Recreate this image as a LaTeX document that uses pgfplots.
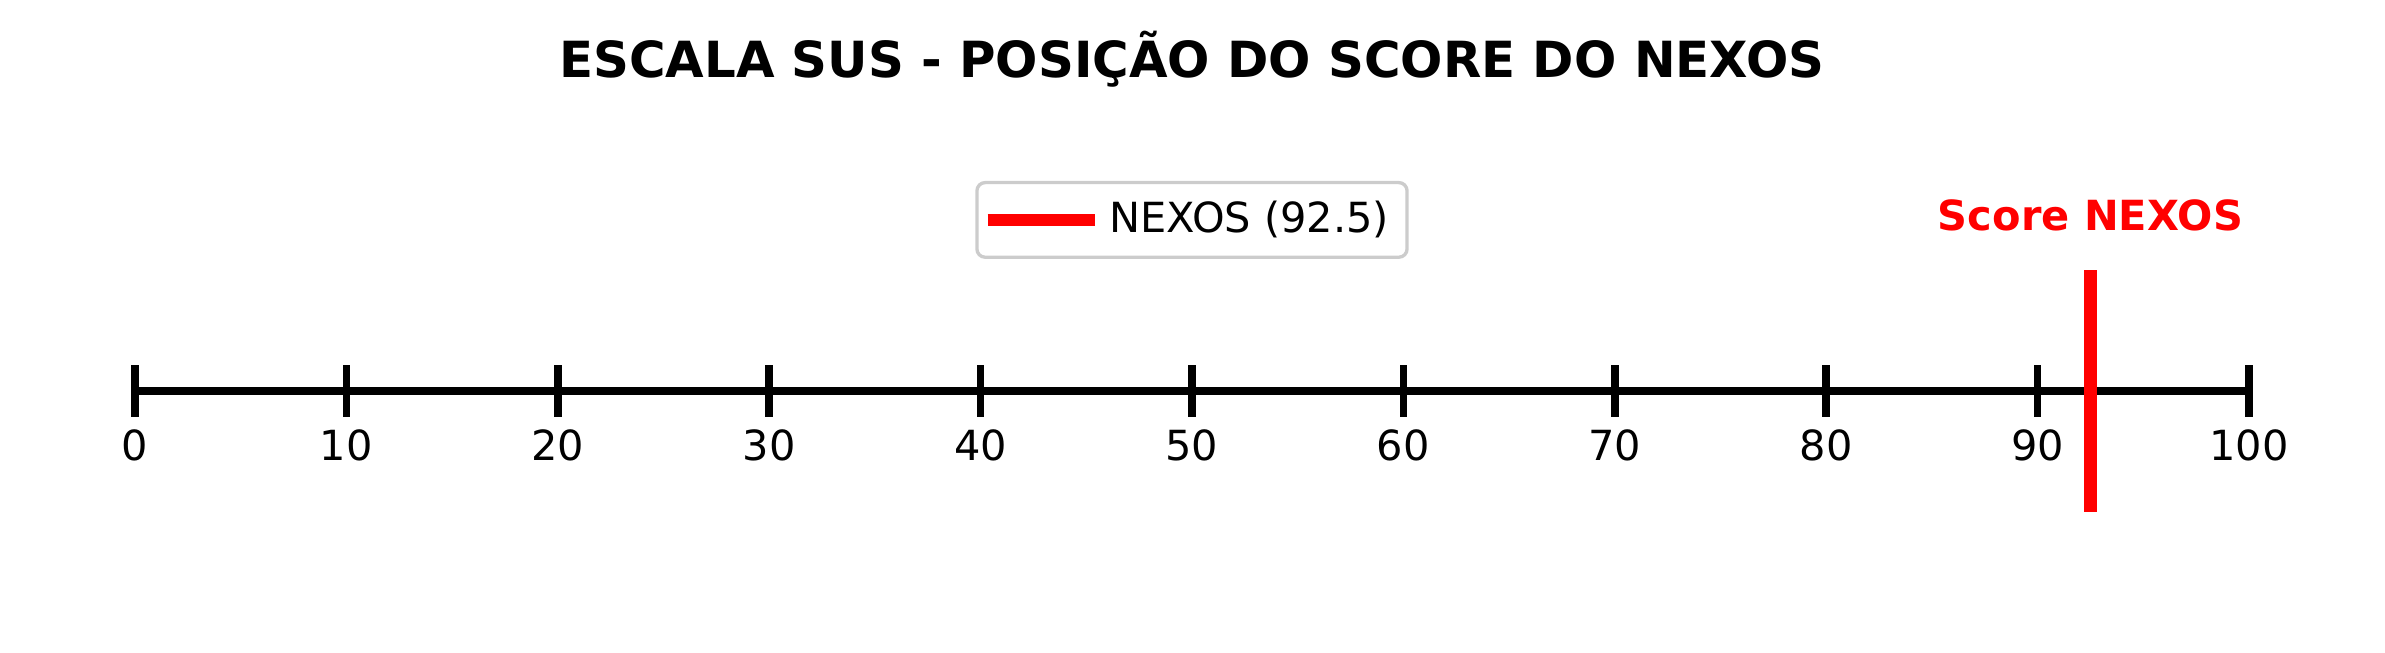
\documentclass[border=0pt]{standalone}
\usepackage{fontspec}
\setmainfont{DejaVu Sans}
\usepackage{pgfplots}
\pgfplotsset{compat=1.18}
\begin{document}
\begin{tikzpicture}
\useasboundingbox (0,0) rectangle (574.55pt,157.07pt);
\begin{axis}[
  at={(32.52pt,4.58pt)}, anchor=south west,
  scale only axis, width=509.26pt, height=116.60pt,
  xmin=0, xmax=100, ymin=-1, ymax=1,
  axis x line=middle, axis y line=none,
  axis line style={-, line width=1.93pt, black, line cap=rect},
  xtick={0,10,...,100},
  tick align=center, major tick length=12.3pt,
  every tick/.style={black, line width=1.8pt},
  xticklabel style={font=\fontsize{10}{12}\selectfont, anchor=north, yshift=0.4pt},
  /pgf/number format/assume math mode=true,
  clip=false,
  title={ESCALA SUS - POSIÇÃO DO SCORE DO NEXOS},
  title style={at={(0.5,1)}, anchor=base, yshift=11.3pt, font=\fontsize{12}{14}\selectfont\bfseries},
  legend style={at={(0.5,0.934)}, anchor=north, draw=black!20, line width=0.8pt, rounded corners=2pt,
     font=\fontsize{10}{12}\selectfont, inner xsep=2.3pt, inner ysep=2.45pt},
  legend image code/.code={\draw[#1, overlay] (-1.2pt,0pt) -- (20.3pt,0pt); \path (0pt,0pt) -- (24.55pt,0pt);},
]
\addplot[red, line width=3pt] coordinates {(92.5,-0.5) (92.5,0.5)};
\addlegendentry{NEXOS (92.5)}
\node[anchor=base, text=red, font=\fontsize{10}{12}\selectfont\bfseries] at (axis cs:92.5,0.665) {Score NEXOS};
\end{axis}
\end{tikzpicture}
\end{document}
